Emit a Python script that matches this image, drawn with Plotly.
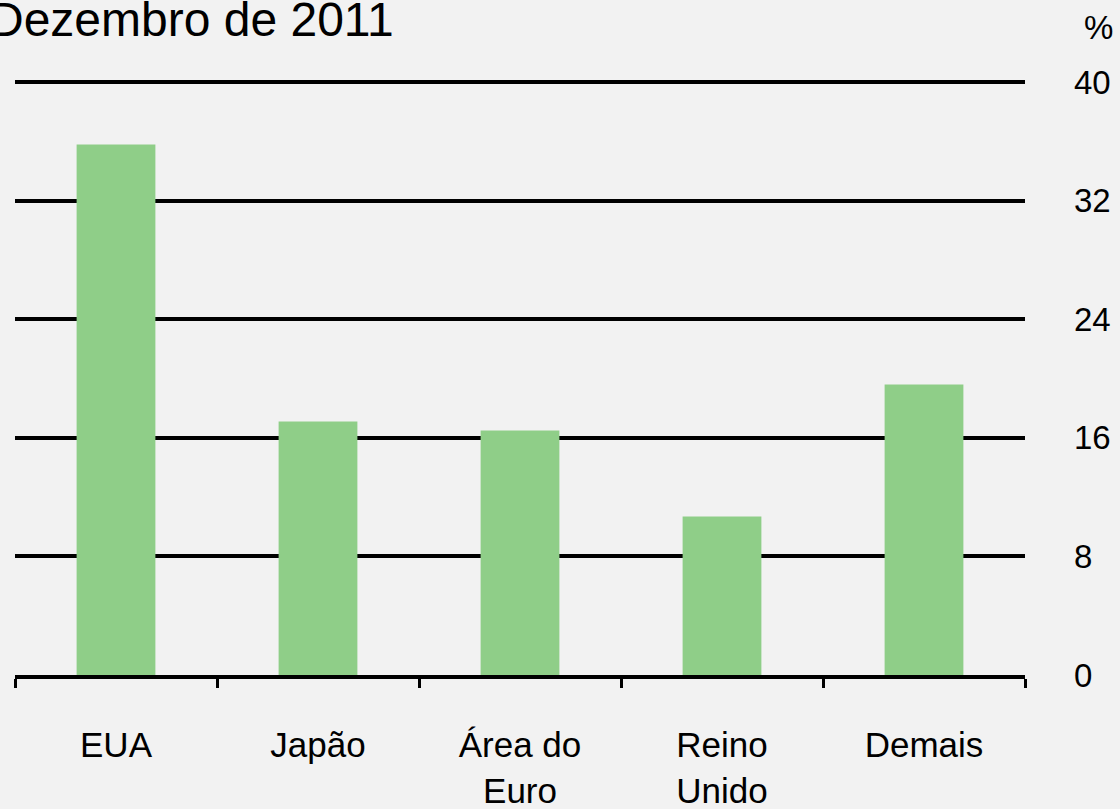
import plotly.graph_objects as go

categories = ["EUA", "Japão", "Área do<br>Euro", "Reino<br>Unido", "Demais"]
values = [35.8, 17.1, 16.5, 10.7, 19.6]
y_ticks = [0, 8, 16, 24, 32, 40]
title_text = "Dezembro de 2011"
unit_text = "%"

W, H = 1120, 809
L, R, T, B = 15, 95, 80, 134
FONT = "Liberation Sans, Arial, sans-serif"

fig = go.Figure()
fig.add_trace(go.Bar(
    x=categories, y=values, width=0.39,
    marker=dict(color="#8fce88", line=dict(width=0)),
    hoverinfo="skip",
))

plot_h = H - T - B
plot_w = W - L - R

fig.update_layout(
    width=W, height=H,
    margin=dict(l=L, r=R, t=T, b=B, pad=0, autoexpand=False),
    paper_bgcolor="#f2f2f2", plot_bgcolor="#f2f2f2",
    showlegend=False,
    font=dict(family=FONT, size=35, color="black"),
    xaxis=dict(
        type="category", range=[-0.5, 4.5], automargin=False,
        showline=True, linecolor="black", linewidth=4,
        ticks="outside", tickson="boundaries", ticklen=9, tickwidth=3, tickcolor="black",
        showgrid=False, zeroline=False,
        tickfont=dict(family=FONT, size=35, color="black"),
        ticklabelstandoff=36,
    ),
    yaxis=dict(
        side="right", range=[0, 40.15], tickvals=y_ticks, automargin=False,
        showgrid=True, gridcolor="black", gridwidth=4,
        zeroline=False, showline=False, ticks="",
        tickfont=dict(family=FONT, size=33, color="black"),
        ticklabelstandoff=48,
    ),
    annotations=[
        dict(text=title_text, xref="paper", yref="paper",
             x=(396 - L) / plot_w, xanchor="right",
             y=1 + (T - 20) / plot_h, yanchor="middle",
             showarrow=False, font=dict(family=FONT, size=48, color="black")),
        dict(text=unit_text, xref="paper", yref="paper",
             x=(1098 - L) / plot_w, xanchor="center",
             y=1 + (T - 27) / plot_h, yanchor="middle",
             showarrow=False, font=dict(family=FONT, size=33, color="black")),
    ],
)

fig.write_html("out.html", config={"displayModeBar": False},
               post_script="document.body.style.margin='0';document.body.style.padding='0';")
